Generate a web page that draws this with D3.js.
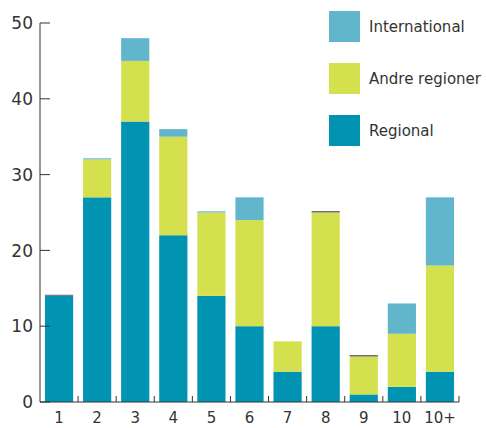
<!DOCTYPE html>
<meta charset="utf-8">
<style>
    body { margin: 0; background: #fff; }
    text { font-family: "DejaVu Sans", sans-serif; fill: #333; }
    .axis path, .axis line { stroke: #333; }
</style>
<svg width="486" height="428"></svg>
<script src="https://d3js.org/d3.v7.min.js"></script>
<script>
    var categories = ["1", "2", "3", "4", "5", "6", "7", "8", "9", "10", "10+"];
    var regional = [14, 27, 37, 22, 14, 10, 4, 10, 1, 2, 4];
    var andre = [0, 5, 8, 13, 11, 14, 4, 15, 5, 7, 14];
    var international = [0, 0.15, 3, 1, 0.15, 3, 0, 0, 0, 4, 9];
    var other = [0.15, 0, 0, 0, 0, 0, 0, 0.2, 0.2, 0, 0];
    var yTicks = [0, 10, 20, 30, 40, 50];

    var series = [
        { name: "Regional", values: regional, color: "#0093b2" },
        { name: "Andre regioner", values: andre, color: "#d5e04e" },
        { name: "International", values: international, color: "#62b6cb" },
        { name: "other", values: other, color: "#6d6e71" }
    ];

    var svg = d3.select("svg"),
        margin = { top: 23, right: 27, bottom: 26, left: 40 },
        width = +svg.attr("width") - margin.left - margin.right,
        height = +svg.attr("height") - margin.top - margin.bottom;

    var x = d3.scaleBand().domain(categories).range([0, 419]).paddingInner(0.26).paddingOuter(0.13);
    var y = d3.scaleLinear().domain([0, 50]).range([height, 0]);

    var g = svg.append("g")
        .attr("transform", "translate(" + margin.left + "," + margin.top + ")");

    // stacked bars
    var table = categories.map(function (c, i) {
        var row = { cat: c };
        series.forEach(function (s) { row[s.name] = s.values[i]; });
        return row;
    });
    var stack = d3.stack().keys(series.map(function (s) { return s.name; }))(table);

    stack.forEach(function (layer, k) {
        g.selectAll(".bar" + k)
            .data(layer)
            .enter().append("rect")
            .attr("x", function (d) { return x(d.data.cat); })
            .attr("y", function (d) { return y(d[1]); })
            .attr("width", x.bandwidth())
            .attr("height", function (d) { return y(d[0]) - y(d[1]); })
            .attr("fill", series[k].color);
    });

    // y axis
    var yAxis = g.append("g").attr("class", "axis");
    yAxis.append("line").attr("x1", 0).attr("x2", 0).attr("y1", y(50)).attr("y2", y(0));
    yAxis.selectAll(".yt").data(yTicks).enter().append("line")
        .attr("x1", 0).attr("x2", 10)
        .attr("y1", function (d) { return y(d); }).attr("y2", function (d) { return y(d); });
    yAxis.selectAll(".yl").data(yTicks).enter().append("text")
        .attr("x", -7).attr("y", function (d) { return y(d); })
        .attr("dy", "0.36em")
        .attr("text-anchor", "end")
        .style("font-size", "17px")
        .text(function (d) { return d; });

    // x axis
    var step = x.step();
    var bounds = categories.map(function (c) { return x(c) + x.bandwidth() + (step - x.bandwidth()) / 2; });
    var xAxis = g.append("g").attr("class", "axis");
    xAxis.append("line").attr("x1", 0).attr("x2", 419).attr("y1", height).attr("y2", height);
    xAxis.selectAll(".xt").data(bounds).enter().append("line")
        .attr("x1", function (d) { return d; }).attr("x2", function (d) { return d; })
        .attr("y1", height).attr("y2", height - 6);
    xAxis.selectAll(".xl").data(categories).enter().append("text")
        .attr("x", function (d) { return x(d) + x.bandwidth() / 2; })
        .attr("y", height + 21)
        .attr("text-anchor", "middle")
        .style("font-size", "15px")
        .text(function (d) { return d; });

    // legend
    var legend = svg.append("g").attr("transform", "translate(329,11)");
    var legendItems = series.slice(0, 3).reverse();
    legendItems.forEach(function (s, i) {
        legend.append("rect").attr("x", 0).attr("y", i * 52).attr("width", 31).attr("height", 31).attr("fill", s.color);
        legend.append("text").attr("x", 40).attr("y", i * 52 + 16).attr("dy", "0.36em")
            .style("font-size", "15px").text(s.name);
    });
</script>
